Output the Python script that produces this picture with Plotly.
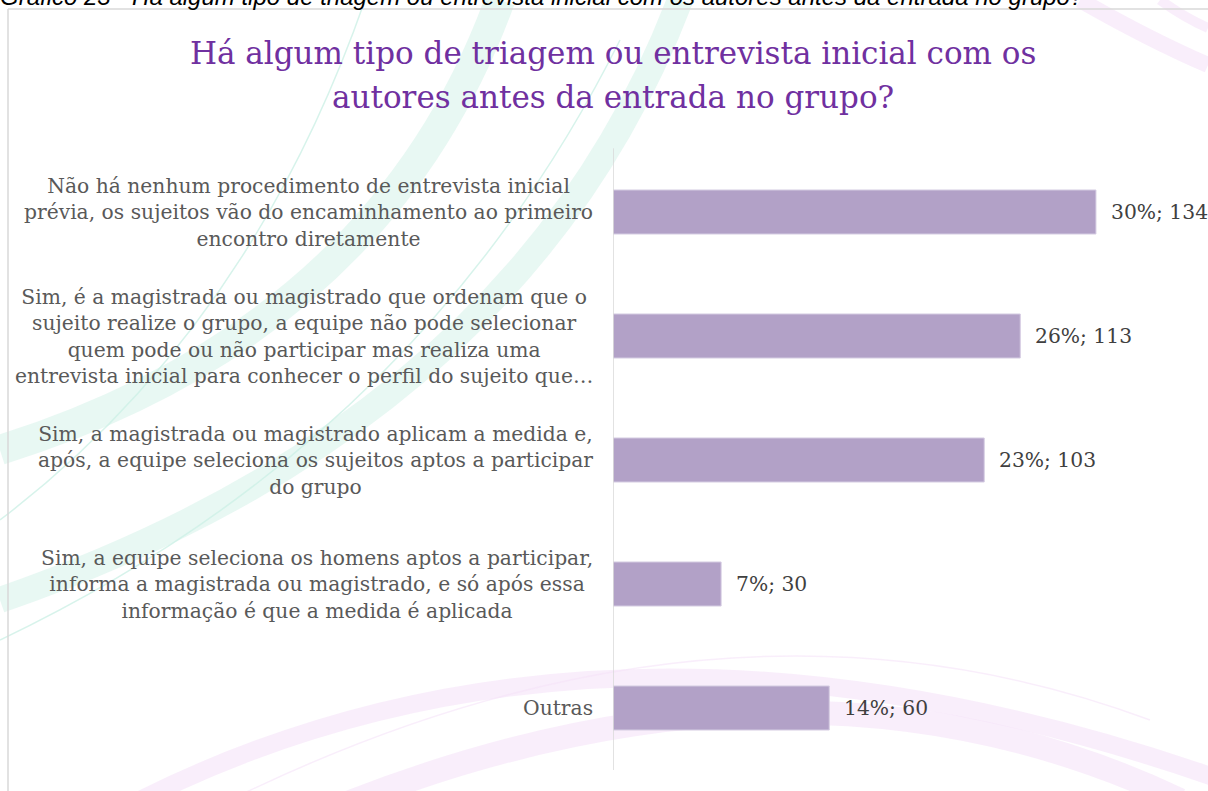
import plotly.graph_objects as go

categories = [
    "Não há nenhum procedimento de entrevista inicial<br>prévia, os sujeitos vão do encaminhamento ao primeiro<br>encontro diretamente",
    "Sim, é a magistrada ou magistrado que ordenam que o<br>sujeito realize o grupo, a equipe não pode selecionar<br>quem pode ou não participar mas realiza uma<br>entrevista inicial para conhecer o perfil do sujeito que…",
    "Sim, a magistrada ou magistrado aplicam a medida e,<br>após, a equipe seleciona os sujeitos aptos a participar<br>do grupo",
    "Sim, a equipe seleciona os homens aptos a participar,<br>informa a magistrada ou magistrado, e só após essa<br>informação é que a medida é aplicada",
    "Outras",
]
counts = [134, 113, 103, 30, 60]
percents = [30, 26, 23, 7, 14]

title_lines = ["Há algum tipo de triagem ou entrevista inicial com os",
               "autores antes da entrada no grupo?"]
caption_text = "Gráfico 23 - Há algum tipo de triagem ou entrevista inicial com os autores antes da entrada no grupo?"

W, H = 1208, 791
L, R, T, B = 613, 0, 150, 21
PW, PH = W - L - R, H - T - B
SERIF = "DejaVu Serif"

def px(x, y):
    return (x - L) / PW, (H - B - y) / PH

def path(points):
    x0, y0 = px(*points[0])
    s = f"M {x0:.4f} {y0:.4f}"
    for i in range(1, len(points), 2):
        cx, cy = px(*points[i])
        ex, ey = px(*points[i + 1])
        s += f" Q {cx:.4f} {cy:.4f} {ex:.4f} {ey:.4f}"
    return s

ypos = list(range(len(categories)))

fig = go.Figure()
fig.add_trace(go.Bar(
    y=ypos, x=counts, orientation="h",
    marker=dict(color="#B2A1C7", line=dict(color="#D5CCE2", width=1)),
    width=0.355, hoverinfo="skip",
))

shapes = []
teal = "rgba(210,241,232,0.5)"
teal2 = "rgba(205,240,230,0.8)"
pink = "rgba(245,226,248,0.6)"
deco = [
    (teal, 30, [(500, 0), (380, 330), (0, 450)]),
    (teal, 26, [(680, 0), (520, 420), (0, 600)]),
    (teal2, 1.5, [(365, 0), (250, 330), (0, 520)]),
    (teal2, 1.5, [(620, 40), (420, 440), (0, 640)]),
    (pink, 16, [(1080, 0), (1150, 40), (1208, 65)]),
    (pink, 10, [(1160, 0), (1185, 18), (1208, 28)]),
    (pink, 18, [(140, 800), (620, 560), (1250, 790)]),
    (pink, 24, [(330, 810), (800, 620), (1180, 800)]),
    (pink, 1.5, [(230, 800), (720, 560), (1150, 720)]),
]
for col, w, pts in deco:
    shapes.append(dict(type="path", path=path(pts), xref="paper", yref="paper",
                       line=dict(color=col, width=w), layer="below"))

# frame
fx0, fy0 = px(8, 9)
fx1, _ = px(1210, 9)
_, fy1 = px(8, 795)
shapes.append(dict(type="line", xref="paper", yref="paper", x0=fx0, y0=fy0, x1=fx1, y1=fy0,
                   line=dict(color="#D9D9D9", width=1.5)))
shapes.append(dict(type="line", xref="paper", yref="paper", x0=fx0, y0=fy0, x1=fx0, y1=fy1,
                   line=dict(color="#D9D9D9", width=1.5)))
shapes.append(dict(type="line", xref="x", yref="paper", x0=0, x1=0, y0=0, y1=1.003,
                   line=dict(color="#D9D9D9", width=1.5)))

annotations = []
for i, c in enumerate(categories):
    annotations.append(dict(x=0, xref="paper", y=ypos[i], yref="y", text=c,
                            xanchor="right", yanchor="middle", align="center",
                            xshift=-18, showarrow=False,
                            font=dict(family=SERIF, size=20.3, color="#595959")))
for i, (v, p) in enumerate(zip(counts, percents)):
    annotations.append(dict(x=v, xref="x", y=ypos[i], yref="y", text=f"{p}%; {v}",
                            xanchor="left", yanchor="middle", xshift=13, showarrow=False,
                            font=dict(family=SERIF, size=20.3, color="#404040")))
cx, cy = px(-2, -3)
annotations.append(dict(x=cx, xref="paper", y=cy, yref="paper", text=f"<i>{caption_text}</i>",
                        xanchor="left", yanchor="middle", showarrow=False,
                        font=dict(family="Liberation Sans", size=24, color="#000000")))
for k, (line, yy) in enumerate(zip(title_lines, [53, 97])):
    tx, ty = px(613, yy)
    annotations.append(dict(x=tx, xref="paper", y=ty, yref="paper", text=line,
                            xanchor="center", yanchor="middle", showarrow=False,
                            font=dict(family=SERIF, size=31, color="#7030A0")))

fig.update_layout(
    width=W, height=H,
    margin=dict(l=L, r=R, t=T, b=B, pad=0),
    paper_bgcolor="white", plot_bgcolor="rgba(0,0,0,0)",
    showlegend=False,
    xaxis=dict(range=[0, PW / 3.604], visible=False, fixedrange=True),
    yaxis=dict(range=[len(categories) - 0.5, -0.5], showticklabels=False, showgrid=False,
               zeroline=False, showline=False, fixedrange=True),
    shapes=shapes,
    annotations=annotations,
)

fig.write_html("out.html", config={"displayModeBar": False},
               post_script="document.body.style.margin='0';document.body.style.overflow='hidden';")
